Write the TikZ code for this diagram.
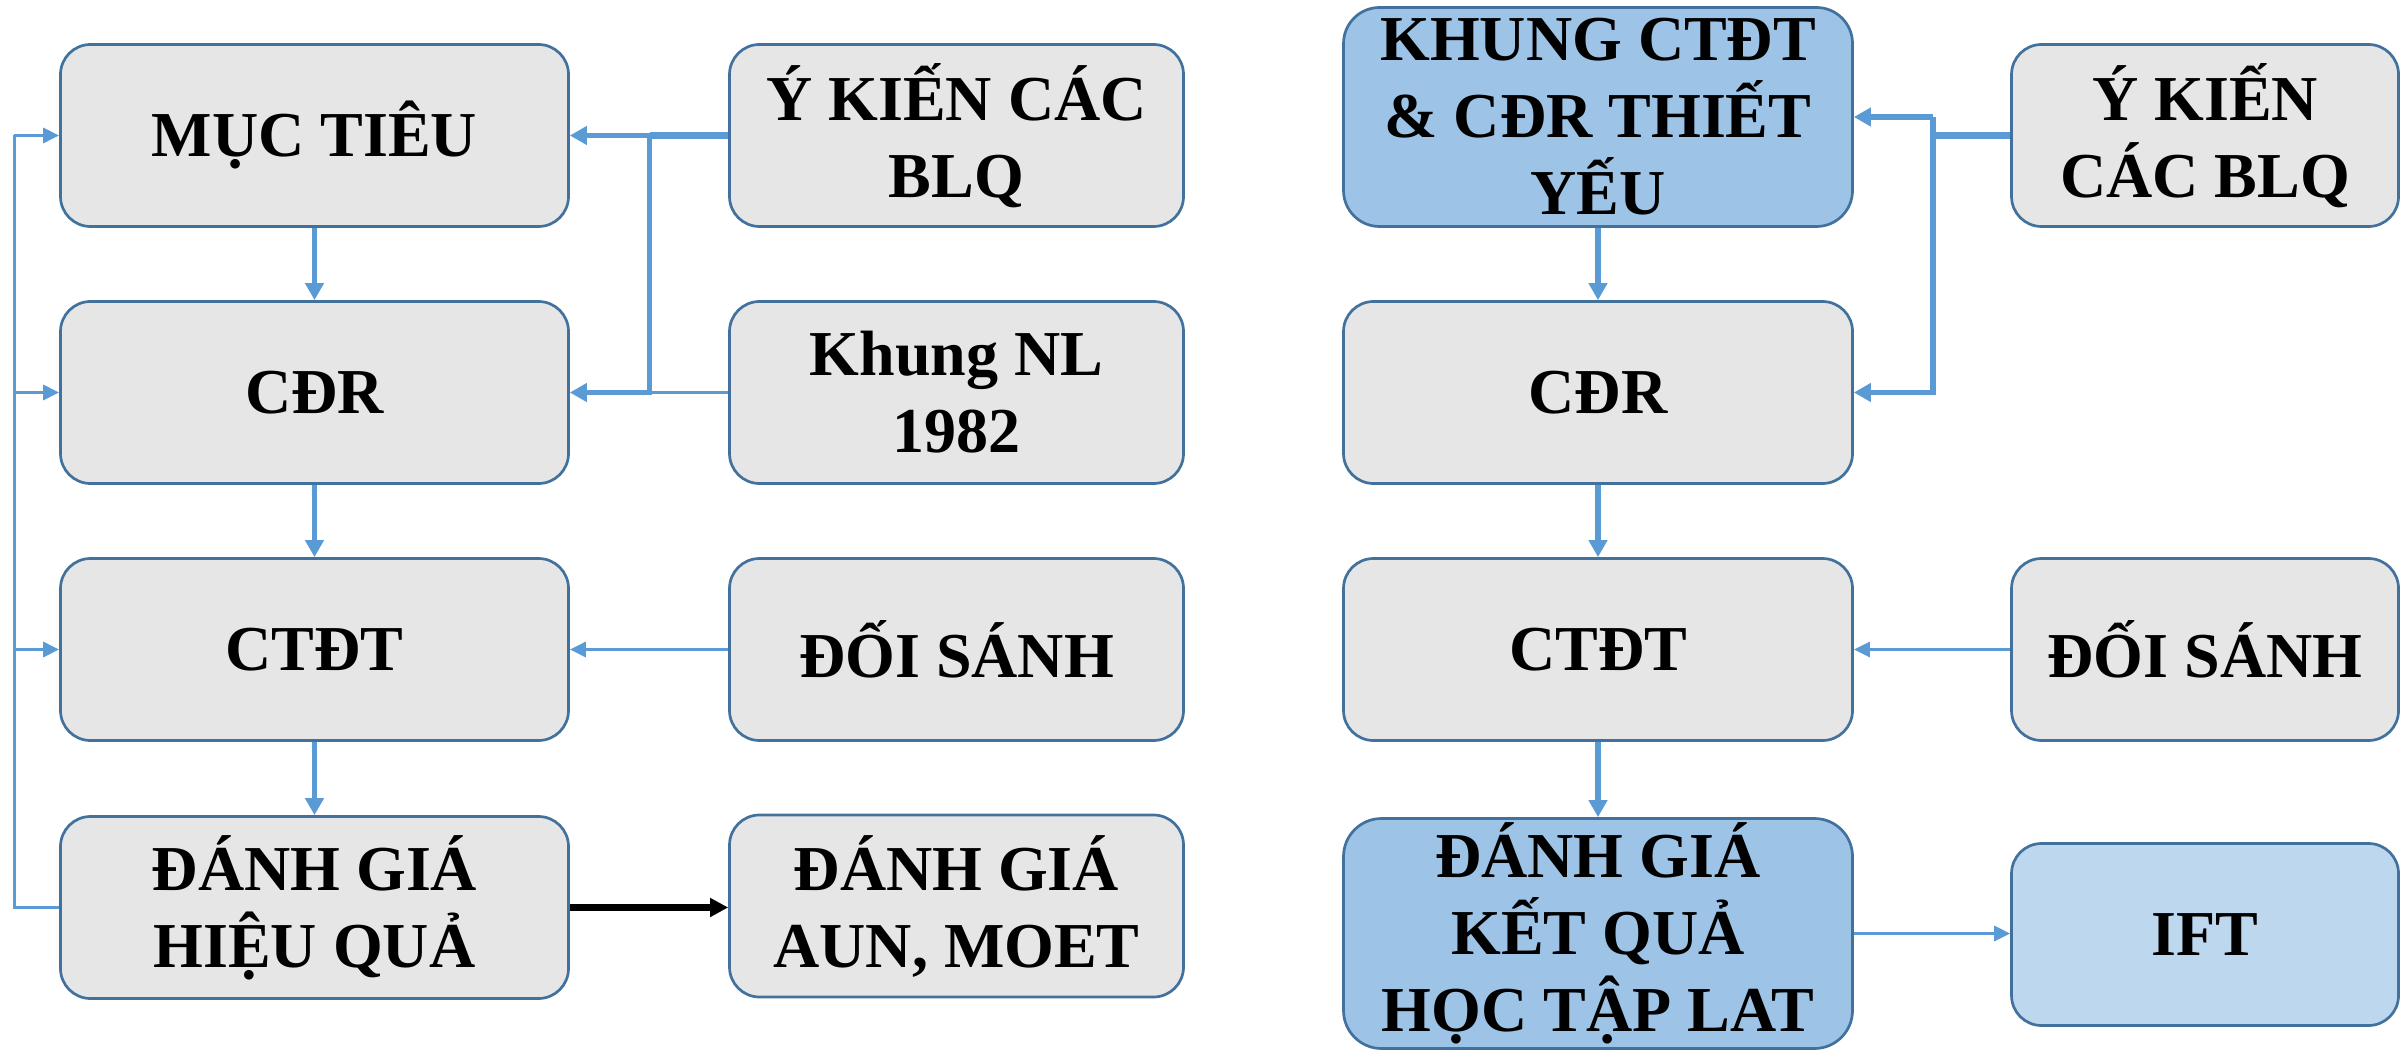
\documentclass[tikz,border=0pt]{standalone}
\usepackage{fontspec}
\setmainfont{Liberation Serif}
\usetikzlibrary{arrows.meta}
\definecolor{boxfill}{HTML}{E7E6E6}
\definecolor{boxline}{HTML}{41719C}
\definecolor{arr}{HTML}{5B9BD5}
\definecolor{bluefill}{HTML}{9DC3E6}
\definecolor{lightfill}{HTML}{BDD7EE}
\begin{document}
\begin{tikzpicture}[x=0.5pt,y=-0.5pt,
  box/.style={draw=boxline, line width=1.35pt, fill=boxfill, rounded corners=15pt,
    align=center, inner sep=0pt, minimum height=91pt,
    font=\fontsize{32}{38.5}\selectfont\bfseries},
  colA/.style={box, minimum width=254pt},
  colB/.style={box, minimum width=227pt},
  colC/.style={box, minimum width=254.5pt},
  colD/.style={box, minimum width=193.5pt},
  mainarr/.style={draw=arr, line width=2.75pt, -{Triangle[length=8.5pt,width=9pt]}},
  thinline/.style={draw=arr, line width=1.5pt},
  thinarr/.style={thinline, -{Triangle[length=8pt,width=7.5pt]}},
  stub/.style={draw=arr, line width=3.75pt},
  blackarr/.style={draw=black, line width=3.25pt, -{Triangle[length=9pt,width=9pt]}}
]
\useasboundingbox (0,0) rectangle (2402,1053);

% column A
\node[colA] (A1) at (314.5,135.5) {MỤC TIÊU};
\node[colA] (A2) at (314.5,392.5) {CĐR};
\node[colA] (A3) at (314.5,649.5) {CTĐT};
\node[colA] (A4) at (314.5,907.5) {ĐÁNH GIÁ\\HIỆU QUẢ};
% column B
\node[colB] (B1) at (956.5,135.5) {Ý KIẾN CÁC\\BLQ};
\node[colB] (B2) at (956.5,392.5) {Khung NL\\1982};
\node[colB] (B3) at (956.5,649.5) {ĐỐI SÁNH};
\node[colB] (B4) at (956.5,906) {ĐÁNH GIÁ\\AUN, MOET};
% column C
\node[colC, fill=bluefill, minimum height=109.5pt, rounded corners=18pt] (C1) at (1598,117) {KHUNG CTĐT\\\& CĐR THIẾT\\YẾU};
\node[colC] (C2) at (1598,392.5) {CĐR};
\node[colC] (C3) at (1598,649.5) {CTĐT};
\node[colC, fill=bluefill, minimum height=115pt, rounded corners=19pt] (C4) at (1598,933.5) {ĐÁNH GIÁ\\KẾT QUẢ\\HỌC TẬP LAT};
% column D
\node[colD] (D1) at (2205,135.5) {Ý KIẾN\\CÁC BLQ};
\node[colD] (D3) at (2205,649.5) {ĐỐI SÁNH};
\node[colD, fill=lightfill] (D4) at (2205,934.5) {IFT};

% vertical flow arrows
\draw[mainarr] (A1.south) -- (A2.north);
\draw[mainarr] (A2.south) -- (A3.north);
\draw[mainarr] (A3.south) -- (A4.north);
\draw[mainarr] (C1.south) -- (C2.north);
\draw[mainarr] (C2.south) -- (C3.north);
\draw[mainarr] (C3.south) -- (C4.north);

% left junction
\coordinate (jl) at (649.5,135.5);
\coordinate (jlb) at (649.5,392.5);
\draw[stub] (B1.west) -- (jl);
\draw[mainarr] (jl) -- (A1.east);
\draw[mainarr] (jl) -- (jlb) -- (A2.east);
\draw[thinline] (B2.west) -- (jlb);

% right junction
\coordinate (jrt) at (1933,117);
\coordinate (jrm) at (1933,135.5);
\coordinate (jrb) at (1933,392.5);
\draw[stub] (D1.west) -- (jrm);
\draw[mainarr] (jrt) -- (C1.east);
\draw[mainarr] (jrt) -- (jrb) -- (C2.east);

% benchmarking arrows
\draw[thinarr] (B3.west) -- (A3.east);
\draw[thinarr] (D3.west) -- (C3.east);
\draw[thinarr] (C4.east) -- (C4.east -| D4.west);

% feedback loop
\coordinate (fb) at (14,907.5);
\coordinate (fb1) at (14,135.5);
\coordinate (fb2) at (14,392.5);
\coordinate (fb3) at (14,649.5);
\draw[thinline] (A4.west) -- (fb) -- (fb1);
\draw[thinarr] (fb1) -- (A1.west);
\draw[thinarr] (fb2) -- (A2.west);
\draw[thinarr] (fb3) -- (A3.west);

% black arrow
\draw[blackarr] (A4.east) -- (A4.east -| B4.west);
\end{tikzpicture}
\end{document}
